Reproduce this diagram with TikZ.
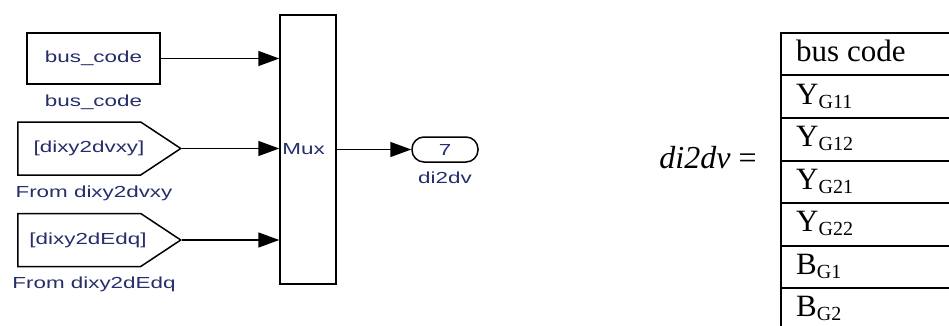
\documentclass[tikz,border=0pt]{standalone}
\usepackage{fontspec}
\setmainfont{Liberation Serif}
\newfontfamily\slk[FakeStretch=1.4]{Liberation Sans}
\usetikzlibrary{arrows.meta,shapes.symbols,positioning}
\definecolor{slblue}{rgb}{.15,.18,.42}
\tikzset{
  blk/.style={draw=black,line width=1.5pt,fill=white,inner sep=0pt},
  slbl/.style={font=\slk\fontsize{16}{18}\selectfont,text=slblue,inner sep=0pt},
  fromblk/.style={blk,signal,signal to=east,signal pointer angle=67,minimum width=163pt,minimum height=53pt,anchor=west},
  sig/.style={-{Triangle[length=21pt,width=15pt]},line width=1.5pt},
  cell/.style={draw,line width=2pt,minimum width=300pt,minimum height=42.5pt,anchor=north west,inner sep=0pt},
  ctxt/.style={font=\fontsize{31}{33}\selectfont,anchor=base west,inner sep=0pt}
}
\newcommand{\Gsub}[1]{\raisebox{-4pt}{\fontsize{20}{20}\selectfont G#1}}

\begin{document}
\begin{tikzpicture}[x=1pt,y=-1pt]
\useasboundingbox (0,0) rectangle (949,326);
\clip (0,0) rectangle (949,326);
% simulink blocks
\node[blk,slbl,minimum width=133pt,minimum height=51pt] (const) at (93.5,58.5) {bus\_code};
\node[slbl,below=10pt of const] {bus\_code};
\node[fromblk] (from1) at (17,148.5) {};
\node[slbl] at (89,148.5) {[dixy2dvxy]};
\node[slbl] at (94,193) {From dixy2dvxy};
\node[fromblk] (from2) at (17,240) {};
\node[slbl] at (88,240) {[dixy2dEdq]};
\node[slbl] at (94,284) {From dixy2dEdq};
\node[blk,minimum width=56pt,minimum height=269pt] (mux) at (308,149.5) {};
\node[slbl,anchor=west] at ([xshift=3pt]mux.west) {Mux};
\node[blk,slbl,rounded corners=12pt,minimum width=66pt,minimum height=25pt] (out) at (445,149.5) {7};
\node[slbl,below=9pt of out] {di2dv};
\draw[sig] (const.east) -- (const.east -| mux.west);
\draw[sig] (from1.east) -- (from1.east -| mux.west);
\draw[sig] (from2.east) -- (from2.east -| mux.west);
\draw[sig] (mux.east |- out.west) -- (out.west);
% vector layout
\node[font=\fontsize{32}{34}\selectfont,anchor=base] (lhs) at (708,168) {\textit{di2dv} =};
\foreach \r/\t in {0/bus code,1/Y\Gsub{11},2/Y\Gsub{12},3/Y\Gsub{21},4/Y\Gsub{22},5/B\Gsub{1},6/B\Gsub{2}}{
  \node[cell] (row\r) at (780,{32+42.5*\r}) {};
  \node[ctxt] at (796,{61.5+42.5*\r}) {\t};
}
\end{tikzpicture}
\end{document}
